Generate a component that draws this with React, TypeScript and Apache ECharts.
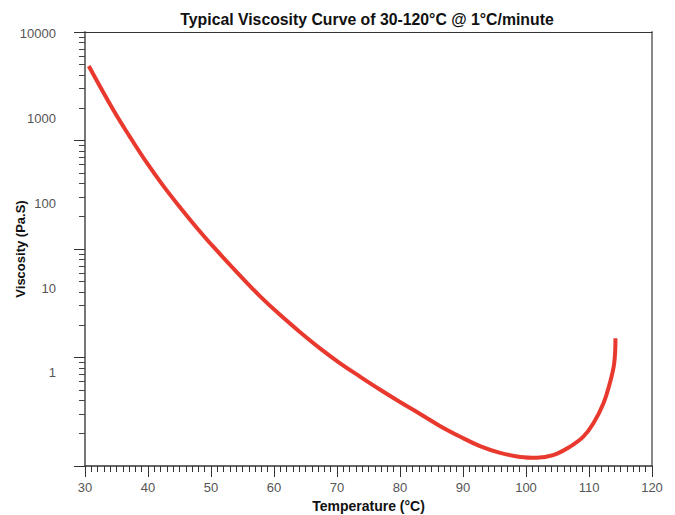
import React, { useEffect, useRef } from "react";
import * as echarts from "echarts";

// Temperature (°C) sampled along the curve
const temperature = [
  30.6, 34.5, 37.1, 39.8, 42.4, 45.1, 47.7, 50.4, 55.1, 57.8, 61.0, 64.1, 67.3,
  70.5, 73.7, 76.8, 80.0, 83.2, 86.4, 89.5, 92.7, 95.9, 99.1, 101.7, 104.3,
  107.0, 109.1, 110.7, 112.3, 113.3, 114.0, 114.2,
];
// Viscosity (Pa.S)
const viscosity = [
  4093, 1242, 605, 298, 160, 88.5, 51.6, 30.4, 12.8, 7.98, 4.8, 3.04, 1.95,
  1.3, 0.902, 0.64, 0.456, 0.33, 0.237, 0.179, 0.138, 0.115, 0.103, 0.1007,
  0.108, 0.136, 0.178, 0.256, 0.441, 0.757, 1.3, 2.56,
];
const yTickLabels = [1, 10, 100, 1000, 10000];
const xMin = 30;
const xMax = 120;

// decade tick marks of the printed log ruler (0..4 decades)
const majorDecades = [0, 1, 2, 3, 4];
const minorDecadeTicks: number[] = [];
for (let d = 0; d < 4; d++) {
  for (let k = 2; k <= 9; k++) minorDecadeTicks.push(d + Math.log10(k));
}

const FONT = "Liberation Sans, Arial, Helvetica, sans-serif";

export default function App() {
  const ref = useRef<HTMLDivElement>(null);
  useEffect(() => {
    if (!ref.current) return;
    const chart = echarts.init(ref.current, undefined, { renderer: "svg" });
    const hiddenY = {
      type: "value",
      min: 0,
      max: 4,
      position: "left",
      axisLine: { show: false, onZero: false },
      axisLabel: { show: false },
      splitLine: { show: false },
    };
    chart.setOption({
      animation: false,
      backgroundColor: "#ffffff",
      title: {
        text: "Typical Viscosity Curve of 30-120°C @ 1°C/minute",
        left: 362,
        top: 6,
        textAlign: "center",
        textStyle: { fontFamily: FONT, fontSize: 15.8, fontWeight: "bold", color: "#111" },
      },
      grid: {
        left: 85,
        right: 23,
        top: 32,
        bottom: 49,
        containLabel: false,
        outerBoundsMode: "none",
      },
      xAxis: [
        {
          type: "value",
          min: xMin,
          max: xMax,
          interval: 10,
          position: "bottom",
          name: "Temperature (°C)",
          nameLocation: "middle",
          nameGap: 33,
          nameMoveOverlap: false,
          nameTextStyle: { fontFamily: FONT, fontSize: 14, fontWeight: "bold", color: "#111" },
          axisLine: { show: true, onZero: false, lineStyle: { color: "#333", width: 1.5 } },
          axisTick: { show: true, length: 11, lineStyle: { color: "#333", width: 1 } },
          minorTick: { show: true, splitNumber: 10, length: 6, lineStyle: { color: "#333", width: 1 } },
          axisLabel: { color: "#555", fontSize: 13, fontFamily: FONT, margin: 15 },
          splitLine: { show: false },
        },
        {
          type: "value",
          min: xMin,
          max: xMax,
          position: "top",
          axisLine: { show: true, onZero: false, lineStyle: { color: "#333", width: 1.2 } },
          axisTick: { show: false },
          axisLabel: { show: false },
          splitLine: { show: false },
        },
      ],
      yAxis: [
        {
          type: "log",
          logBase: 10,
          min: 0.0805,
          max: 10280,
          position: "left",
          name: "Viscosity (Pa.S)",
          nameLocation: "middle",
          nameGap: 58,
          nameMoveOverlap: false,
          nameTextStyle: { fontFamily: FONT, fontSize: 13, fontWeight: "bold", color: "#111" },
          axisLine: { show: true, onZero: false, lineStyle: { color: "#777", width: 2 } },
          axisTick: { show: false },
          axisLabel: {
            customValues: yTickLabels,
            color: "#555",
            fontSize: 13,
            fontFamily: FONT,
            margin: 29,
            formatter: (v: number) => String(Math.round(v)),
          },
          splitLine: { show: false },
        },
        {
          ...hiddenY,
          axisTick: {
            show: true,
            customValues: majorDecades,
            length: 11,
            lineStyle: { color: "#333", width: 1 },
          },
        },
        {
          ...hiddenY,
          axisTick: {
            show: true,
            customValues: minorDecadeTicks,
            length: 6,
            lineStyle: { color: "#444", width: 1 },
          },
        },
        {
          type: "value",
          min: 0,
          max: 4,
          position: "right",
          axisLine: { show: true, onZero: false, lineStyle: { color: "#888", width: 2 } },
          axisTick: { show: false },
          axisLabel: { show: false },
          splitLine: { show: false },
        },
      ],
      series: [
        {
          type: "line",
          xAxisIndex: 0,
          yAxisIndex: 0,
          data: temperature.map((t, i) => [t, viscosity[i]]),
          smooth: 0.4,
          showSymbol: false,
          symbol: "none",
          lineStyle: { color: "#e9392e", width: 4, cap: "butt" },
        },
      ],
    });
    return () => chart.dispose();
  }, []);
  return <div ref={ref} style={{ width: 675, height: 515, position: "absolute", left: 0, top: 0 }} />;
}
